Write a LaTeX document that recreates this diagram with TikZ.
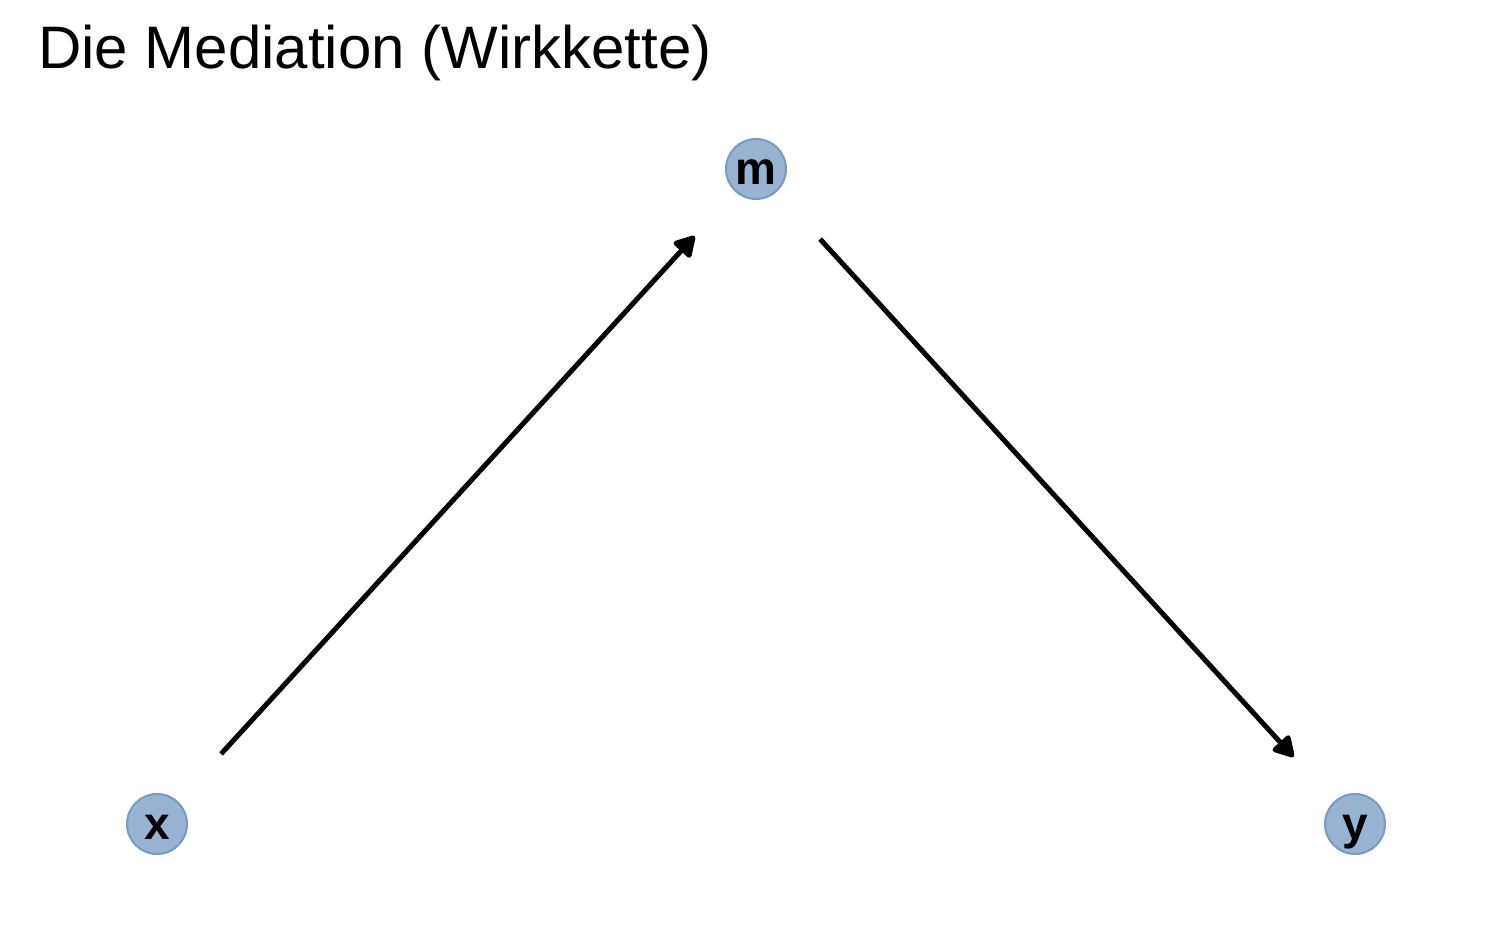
\documentclass[tikz,border=0pt]{standalone}
\usepackage{fontspec}
\setmainfont{Liberation Sans}
\usetikzlibrary{arrows.meta}
\definecolor{nodefill}{HTML}{98B2D2}
\definecolor{nodedraw}{HTML}{789AC6}
\tikzset{
  var/.style={circle, fill=nodefill, draw=nodedraw, line width=2pt, minimum size=60pt, inner sep=0pt, text height=31pt, text depth=0pt, font=\fontsize{46}{46}\selectfont\bfseries},
  conn/.style={line width=5pt, -{Triangle[length=23pt,width=25pt,round]}}
}
\begin{document}
\begin{tikzpicture}[x=1pt,y=-1pt]
\useasboundingbox (0,0) rectangle (1500,927);
\node[anchor=base west, inner sep=0pt, font=\fontsize{60}{60}\selectfont] (title) at (38,68) {Die Mediation (Wirkkette)};
\node[var] (m) at (756,169) {m};
\node[var] (x) at (157,824) {x};
\node[var] (y) at (1355,824) {y};
\draw[conn, shorten <=64pt, shorten >=60pt] (x) -- (m);
\draw[conn, shorten <=64pt, shorten >=60pt] (m) -- (y);
\end{tikzpicture}
\end{document}
